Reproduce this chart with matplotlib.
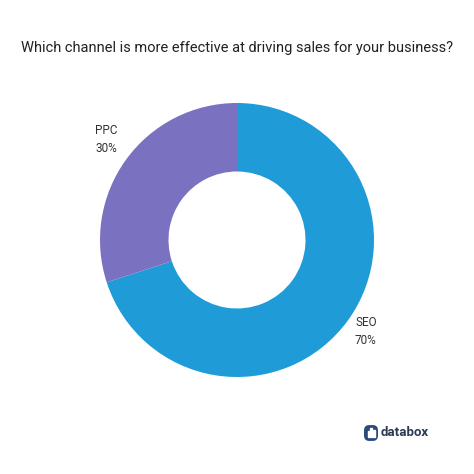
import matplotlib
matplotlib.use("Agg")
import matplotlib.pyplot as plt
from matplotlib.patches import FancyBboxPatch

labels = ["SEO", "PPC"]
values = [70, 30]
colors = ["#1f9bd7", "#7a72c0"]

fig = plt.figure(figsize=(4.74, 4.74), dpi=100)
fig.patch.set_facecolor("white")
ax = fig.add_axes([(237-137)/474, 1-(240+137)/474, 274/474, 274/474])
ax.pie(values, colors=colors, startangle=90, counterclock=False,
       wedgeprops=dict(width=0.5, edgecolor="none"))
ax.set_aspect("equal")
ax.set_xlim(-1, 1); ax.set_ylim(-1, 1)

fig.text(0.5, 1-48/474, "Which channel is more effective at driving sales for your business?",
         ha="center", va="center", fontsize=10.5, family="Roboto", color="#222222")
fig.text(95/474, 1-140/474, "PPC\n30%", ha="left", va="center", fontsize=8.5,
         family="Roboto", color="#333333", linespacing=1.5)
fig.text(355/474, 1-331/474, "SEO\n70%", ha="left", va="center", fontsize=8.5,
         family="Roboto", color="#333333", linespacing=1.5)

# databox logo
lax = fig.add_axes([364/474, 1-441/474, 14/474, 16/474])
lax.axis("off")
lax.add_patch(FancyBboxPatch((0.05, 0.05), 0.9, 0.9, boxstyle="round,pad=0,rounding_size=0.3",
                             color="#2a4a7a"))
for x, h in [(0.25, 0.35), (0.45, 0.55), (0.65, 0.45)]:
    lax.add_patch(plt.Rectangle((x, 0.25), 0.12, h, color="white"))
lax.set_xlim(0, 1); lax.set_ylim(0, 1)
fig.text(381/474, 1-433/474, "databox", ha="left", va="center", fontsize=9.5,
         family="Roboto", weight="bold", color="#2a3a55")

fig.savefig("out.png", dpi=100, facecolor="white")
